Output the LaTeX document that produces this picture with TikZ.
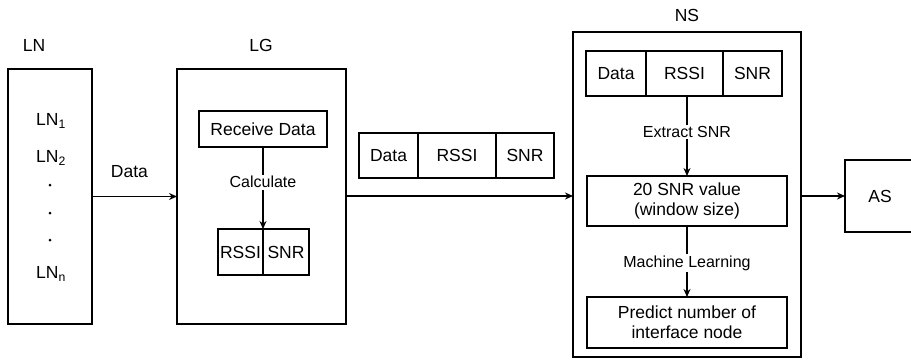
\documentclass[tikz,border=0pt]{standalone}
\usepackage{fontspec}
\setmainfont{Liberation Sans}
\usetikzlibrary{positioning,arrows.meta}
\tikzset{%
  >={Stealth[length=8pt,width=7pt]},
  box/.style={draw,line width=1.3pt,inner sep=0pt,outer sep=0pt},
  field/.style={box,minimum height=45pt,font=\fontsize{17.5}{20}\selectfont},
  item/.style={inner sep=0pt,font=\fontsize{17.5}{20}\selectfont},
  tag/.style={fill=white,inner sep=1.5pt,font=\fontsize{16}{18}\selectfont},
  flow/.style={->,line width=1.3pt}
}

\begin{document}
\begin{tikzpicture}[x=1pt,y=-1pt]
\useasboundingbox (0,0) rectangle (911,360);

%% the three big boxes
\node[box,minimum width=84pt,minimum height=255pt] (LN) at (50,196.5) {};
\node[box,minimum width=169pt,minimum height=255pt] (LG) at (261.5,196.5) {};
\node[box,minimum width=228pt,minimum height=325pt] (NS) at (687,194.5) {};
\node[box,minimum width=70pt,minimum height=72pt,font=\fontsize{17.5}{20}\selectfont] (AS) at (880,196) {AS};

%labelling the boxes
\node[item] (LNname) at (34,45) {LN};
\node[item] (LGname) at (261,45) {LG};
\node[item] (NSname) at (687,15) {NS};

% end nodes
\node[item] (ln1) at (51,121) {LN\textsubscript{1}};
\node[item] (ln2) at (51,158) {LN\textsubscript{2}};
\foreach \y/\n in {185/a,213/b,240/c}
  \fill (50,\y) circle (1.5pt) coordinate (dot\n);
\node[item] (lnn) at (51,274) {LN\textsubscript{n}};

% gateway
\node[field,minimum width=128pt,minimum height=36pt] (recv) at (263,129) {Receive Data};
\node[field,minimum width=45pt,minimum height=46pt] (gwRssi) at (240.5,252) {RSSI};
\node[field,minimum width=46pt,minimum height=46pt,right=0pt of gwRssi] (gwSnr) {SNR};

% packet on its way
\node[field,minimum width=59pt] (pkData) at (388.5,155.5) {Data};
\node[field,minimum width=78pt,right=0pt of pkData] (pkRssi) {RSSI};
\node[field,minimum width=58pt,right=0pt of pkRssi] (pkSnr) {SNR};

% network server
\node[field,minimum width=60pt] (nsData) at (616,73.5) {Data};
\node[field,minimum width=77pt,right=0pt of nsData] (nsRssi) {RSSI};
\node[field,minimum width=59pt,right=0pt of nsRssi] (nsSnr) {SNR};
\node[field,minimum width=200pt,minimum height=50pt,align=center,
  font=\fontsize{17.5}{20}\selectfont] (val) at (687,201) {20 SNR value\\(window size)};
\node[field,minimum width=200pt,minimum height=51pt,align=center,
  font=\fontsize{17.5}{20}\selectfont] (pred) at (687,322.5) {Predict number of\\interface node};

%% connectors
\draw[flow] (LN) -- node[item,pos=0.44,above=18pt] {Data} (LG);
\draw[flow] (LG.east |- 0,196) -- (NS.west |- 0,196);
\draw[flow] (NS.east |- AS) -- (AS);
\draw[flow] (recv.south) -- node[tag,pos=0.43] {Calculate} (gwRssi.north east);
\draw[flow] (val.north |- nsRssi.south) -- node[tag,pos=0.45] {Extract SNR} (val.north);
\draw[flow] (val.south) -- node[tag,pos=0.52] {Machine Learning} (pred.north);

\end{tikzpicture}
\end{document}
